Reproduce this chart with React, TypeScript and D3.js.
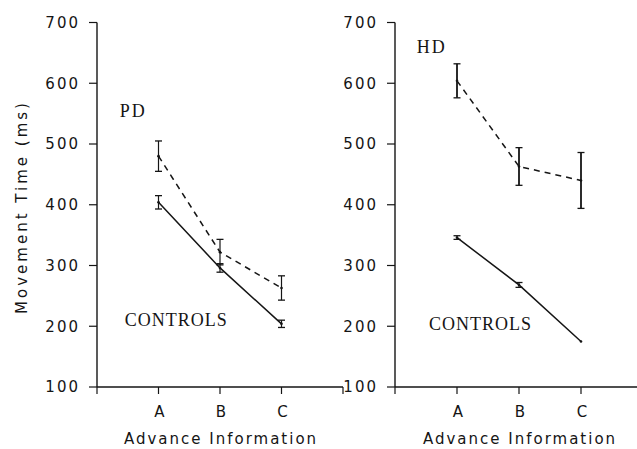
import { useEffect, useRef } from "react";
import * as d3 from "d3";

const categories = ["A", "B", "C"];
const yTicks = [100, 200, 300, 400, 500, 600, 700];

// PD panel
const pdMean = [480, 322, 263];
const pdErr = [25, 21, 20];
const pdCtrlMean = [404, 296, 204];
const pdCtrlErr = [11, 7, 6];

// HD panel
const hdMean = [604, 463, 440];
const hdErr = [28, 31, 46];
const hdCtrlMean = [346, 268, 175];
const hdCtrlErr = [3, 4, 0];

const panels = [
  {
    group: "PD",
    x0: 97,
    x1: 343,
    mean: pdMean,
    err: pdErr,
    ctrlMean: pdCtrlMean,
    ctrlErr: pdCtrlErr,
    groupLabel: { x: 0.37, v: 545 },
    ctrlLabel: { x: 0.45, v: 200 },
    errWidth: 1.2,
  },
  {
    group: "HD",
    x0: 395,
    x1: 643,
    mean: hdMean,
    err: hdErr,
    ctrlMean: hdCtrlMean,
    ctrlErr: hdCtrlErr,
    groupLabel: { x: 0.35, v: 650 },
    ctrlLabel: { x: 0.55, v: 194 },
    errWidth: 1.8,
  },
];

const W = 637;
const H = 449;
const INK = "#151515";
const LABEL_FONT = "Liberation Serif, DejaVu Serif, serif";

const App = () => {
  const ref = useRef<SVGSVGElement>(null);

  useEffect(() => {
    const svg = d3.select(ref.current);
    svg.selectAll("*").remove();

    const yScale = d3.scaleLinear().domain([100, 700]).range([387, 22.5]);

    panels.forEach((p) => {
      const xScale = d3.scaleLinear().domain([0, 4]).range([p.x0, p.x1]);
      const g = svg.append("g");

      // y axis
      g.append("line")
        .attr("x1", p.x0)
        .attr("x2", p.x0)
        .attr("y1", yScale(700))
        .attr("y2", yScale(100))
        .attr("stroke", INK)
        .attr("stroke-width", 1.4);
      yTicks.forEach((t) => {
        g.append("line")
          .attr("x1", p.x0 - 8)
          .attr("x2", p.x0)
          .attr("y1", yScale(t))
          .attr("y2", yScale(t))
          .attr("stroke", INK)
          .attr("stroke-width", 1.2);
        g.append("text")
          .attr("x", p.x0 - 17)
          .attr("y", yScale(t))
          .attr("dy", "0.36em")
          .attr("text-anchor", "end")
          .attr("font-family", "DejaVu Sans")
          .attr("font-size", 15)
          .attr("letter-spacing", 2)
          .attr("fill", INK)
          .text(t);
      });

      // x axis
      g.append("line")
        .attr("x1", xScale(0))
        .attr("x2", xScale(4))
        .attr("y1", yScale(100))
        .attr("y2", yScale(100))
        .attr("stroke", INK)
        .attr("stroke-width", 1.4);
      [0, 1, 2, 3, 4].forEach((i) => {
        g.append("line")
          .attr("x1", xScale(i))
          .attr("x2", xScale(i))
          .attr("y1", yScale(100))
          .attr("y2", yScale(100) + 7)
          .attr("stroke", INK)
          .attr("stroke-width", 1.2);
      });
      categories.forEach((c, i) => {
        g.append("text")
          .attr("x", xScale(i + 1) + 1)
          .attr("y", 417)
          .attr("text-anchor", "middle")
          .attr("font-family", "DejaVu Sans")
          .attr("font-size", 15)
          .attr("fill", INK)
          .text(c);
      });
      g.append("text")
        .attr("x", xScale(2) + 1)
        .attr("y", 444)
        .attr("text-anchor", "middle")
        .attr("font-family", "DejaVu Sans")
        .attr("font-size", 15)
        .attr("letter-spacing", 2)
        .attr("fill", INK)
        .text("Advance Information");

      const line = d3
        .line<number>()
        .x((_, i) => xScale(i + 1))
        .y((d) => yScale(d));

      // patient group (dashed)
      g.append("path")
        .datum(p.mean)
        .attr("d", line)
        .attr("fill", "none")
        .attr("stroke", INK)
        .attr("stroke-width", 1.5)
        .attr("stroke-dasharray", "6,5");

      // controls (solid)
      g.append("path")
        .datum(p.ctrlMean)
        .attr("d", line)
        .attr("fill", "none")
        .attr("stroke", INK)
        .attr("stroke-width", 1.5);

      const bars = [
        ...p.mean.map((m, i) => ({ i, m, e: p.err[i], w: p.errWidth })),
        ...p.ctrlMean.map((m, i) => ({ i, m, e: p.ctrlErr[i], w: 1.2 })),
      ];
      bars.forEach((b) => {
        const cx = xScale(b.i + 1);
        g.append("circle")
          .attr("cx", cx)
          .attr("cy", yScale(b.m))
          .attr("r", 1.3)
          .attr("fill", INK);
        if (b.e <= 0) return;
        const top = yScale(b.m + b.e);
        const bot = yScale(b.m - b.e);
        g.append("line")
          .attr("x1", cx)
          .attr("x2", cx)
          .attr("y1", top)
          .attr("y2", bot)
          .attr("stroke", INK)
          .attr("stroke-width", b.w);
        [top, bot].forEach((yy) => {
          g.append("line")
            .attr("x1", cx - 3.5)
            .attr("x2", cx + 3.5)
            .attr("y1", yy)
            .attr("y2", yy)
            .attr("stroke", INK)
            .attr("stroke-width", 1.3);
        });
      });

      // group labels
      g.append("text")
        .attr("x", xScale(p.groupLabel.x))
        .attr("y", yScale(p.groupLabel.v))
        .attr("font-family", LABEL_FONT)
        .attr("font-size", 18)
        .attr("letter-spacing", 2)
        .attr("fill", INK)
        .text(p.group);
      g.append("text")
        .attr("x", xScale(p.ctrlLabel.x))
        .attr("y", yScale(p.ctrlLabel.v))
        .attr("font-family", LABEL_FONT)
        .attr("font-size", 18)
        .attr("letter-spacing", 1)
        .attr("fill", INK)
        .text("CONTROLS");
    });

    // y axis title
    svg
      .append("text")
      .attr("transform", `translate(27,${207}) rotate(-90)`)
      .attr("text-anchor", "middle")
      .attr("font-family", "DejaVu Sans")
      .attr("font-size", 15)
      .attr("letter-spacing", 3)
      .attr("fill", INK)
      .text("Movement Time (ms)");
  }, []);

  return (
    <svg
      ref={ref}
      width={W}
      height={H}
      style={{ position: "absolute", left: 0, top: 0, background: "#fff" }}
    ></svg>
  );
};

export default App;
